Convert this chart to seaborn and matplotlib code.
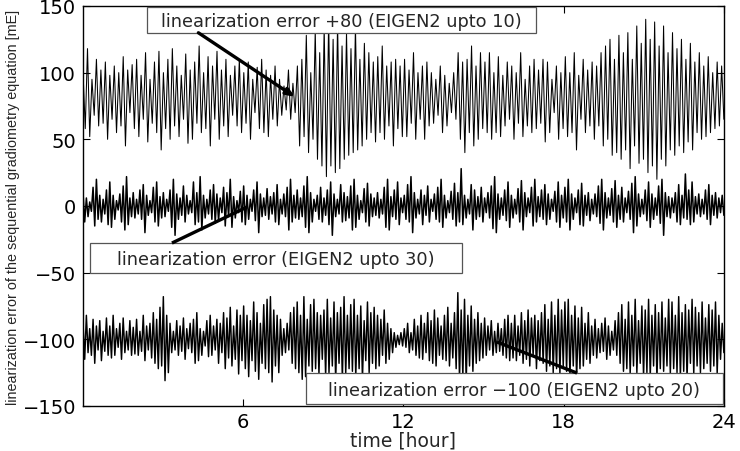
import numpy as np
import pandas as pd
import matplotlib
matplotlib.use("Agg")
import matplotlib.pyplot as plt
from matplotlib.patches import Rectangle
import seaborn as sns

# ---------------- data (raw linearization errors, mE) ----------------
err_upto10 = [
    20,-22,38,-28,15,-12,30,-20,22,-18,28,-30,
    18,-15,25,-25,20,-20,32,-35,22,-10,26,-22,
    30,-28,18,-15,35,-32,15,-18,28,-25,36,-38,
    20,-22,30,-30,38,-20,25,-28,18,-15,34,-33,
    22,-30,28,-18,40,-25,20,-22,32,-35,25,-15,
    36,-30,22,-20,30,-28,18,-12,25,-20,30,-25,
    20,-18,28,-30,15,-10,24,-22,30,-25,22,-28,
    18,-15,25,-20,15,-12,10,-8,22,-15,12,-10,
    25,-35,30,-28,48,-40,20,-30,52,-45,35,-50,
    55,-58,60,-50,45,-55,58,-52,40,-45,50,-42,
    38,-40,55,-38,30,-35,42,-30,35,-25,28,-32,
    32,-25,40,-30,25,-20,28,-35,30,-22,25,-28,
    30,-28,22,-18,35,-30,20,-15,25,-30,28,-20,
    20,-18,15,-12,25,-25,18,-20,12,-10,20,-15,
    35,-30,28,-40,30,-25,40,-35,25,-30,35,-22,
    28,-25,35,-30,20,-25,32,-28,18,-20,28,-15,
    25,-30,20,-18,35,-28,15,-20,25,-25,30,-22,
    22,-18,30,-32,28,-25,15,-10,25,-30,20,-22,
    32,-28,20,-25,35,-38,18,-15,30,-25,22,-20,
    28,-30,25,-20,35,-35,40,-30,45,-42,30,-40,
    48,-45,35,-38,50,-52,30,-35,55,-48,42,-45,
    60,-55,45,-50,58,-60,40,-45,55,-50,35,-38,
    50,-42,38,-35,45,-40,30,-32,42,-38,28,-25,
    35,-30,25,-28,32,-25,20,-22,28,-20,25,-15,
]

err_upto30 = [
    10,-12,6,-8,3,-4,14,-15,20,-10,8,-12,5,-6,12,-14,
    18,-16,8,-10,4,-3,9,-12,15,-18,22,-14,6,-8,10,-9,
    5,-6,12,-10,16,-20,8,-7,4,-5,14,-12,18,-15,7,-9,
    10,-8,5,-4,12,-16,20,-22,9,-10,6,-7,15,-12,8,-6,
    4,-5,18,-14,10,-12,22,-18,8,-9,5,-6,12,-10,16,-13,
    9,-11,6,-5,14,-15,10,-8,20,-16,7,-9,4,-5,11,-12,
    15,-14,8,-10,5,-4,12,-11,18,-20,9,-8,6,-7,13,-10,
    7,-6,10,-12,16,-14,5,-6,9,-8,14,-18,20,-12,8,-9,
    12,-10,6,-8,15,-16,22,-20,10,-12,5,-4,8,-10,14,-12,
    6,-7,12,-14,18,-22,9,-8,5,-6,16,-12,10,-11,7,-9,
    15,-18,20,-16,8,-10,4,-5,13,-12,17,-15,9,-8,6,-7,
    10,-9,5,-6,14,-16,20,-18,7,-8,12,-10,18,-14,6,-5,
    8,-10,16,-12,22,-20,10,-9,5,-6,12,-14,8,-7,15,-12,
    5,-4,9,-10,14,-12,20,-16,8,-9,4,-5,11,-10,17,-15,
    10,-12,28,-14,8,-9,5,-6,16,-18,12,-10,7,-8,14,-12,
    6,-5,10,-9,15,-17,22,-20,9,-10,6,-7,12,-11,18,-16,
    8,-9,5,-6,13,-12,19,-18,10,-8,6,-5,14,-15,20,-12,
    7,-8,12,-10,16,-14,9,-10,5,-4,11,-12,18,-16,8,-9,
    14,-12,20,-18,9,-10,6,-5,12,-14,17,-15,8,-7,10,-11,
    5,-6,9,-8,15,-13,20,-18,10,-9,6,-7,13,-12,19,-16,
    8,-10,14,-12,6,-5,11,-10,17,-20,22,-15,9,-8,5,-6,
    12,-11,18,-16,9,-10,6,-7,15,-13,20,-22,10,-8,7,-9,
    6,-5,10,-12,16,-14,8,-9,24,-10,12,-14,18,-12,7,-6,
    9,-8,5,-6,12,-10,16,-14,8,-7,10,-9,6,-5,8,-7,
]

err_upto20 = [
    12,-15,18,-10,8,-12,15,-18,10,-8,14,-16,6,-9,16,-12,
    10,-14,18,-12,8,-6,12,-15,16,-10,6,-8,14,-12,9,-11,
    15,-12,6,-9,18,-16,10,-8,12,-14,20,-18,15,-22,24,-20,
    32,-31,18,-25,12,-10,6,-8,14,-12,10,-9,16,-15,8,-7,
    12,-10,15,-18,20,-16,8,-12,6,-5,14,-13,18,-12,10,-8,
    15,-18,12,-10,20,-22,16,-14,24,-20,10,-15,22,-26,18,-16,
    25,-22,18,-28,14,-16,28,-24,20,-30,12,-18,26,-22,30,-25,
    32,-32,22,-20,18,-25,15,-12,8,-10,12,-8,20,-18,24,-22,
    28,-25,18,-30,32,-28,15,-20,26,-24,30,-22,20,-26,18,-15,
    22,-28,30,-25,16,-20,28,-32,20,-18,24,-30,32,-26,18,-22,
    26,-24,30,-28,18,-22,25,-30,14,-16,28,-25,20,-18,24,-22,
    18,-20,15,-12,22,-18,12,-15,8,-10,5,-6,3,-4,5,-5,
    8,-6,12,-10,5,-8,15,-12,10,-14,18,-15,12,-10,20,-16,
    14,-18,22,-20,16,-12,10,-15,18,-16,24,-20,12,-14,20,-22,
    35,-30,22,-28,30,-32,18,-20,25,-24,15,-18,20,-16,12,-14,
    16,-12,10,-8,14,-12,6,-10,12,-9,8,-12,15,-14,18,-16,
    12,-14,18,-16,10,-12,20,-18,14,-15,22,-20,16,-12,18,-22,
    14,-16,20,-18,26,-24,15,-20,28,-25,18,-22,30,-26,22,-20,
    28,-24,30,-28,18,-20,25,-30,16,-22,24,-20,12,-15,20,-18,
    10,-12,15,-14,8,-10,12,-9,16,-15,10,-12,6,-8,14,-12,
    20,-18,26,-24,15,-22,28,-26,18,-20,30,-25,14,-18,25,-28,
    22,-25,30,-28,18,-20,26,-30,20,-22,28,-24,16,-20,30,-26,
    28,-22,18,-25,32,-28,20,-24,26,-30,22,-18,30,-26,24,-20,
    20,-25,28,-22,16,-18,26,-24,22,-20,28,-26,18,-15,12,-10,
]

offsets = [80, 0, -100]
labels = [
    "linearization error +80 (EIGEN2 upto 10)",
    "linearization error (EIGEN2 upto 30)",
    "linearization error \u2212100 (EIGEN2 upto 20)",
]
x_ticks = [6, 12, 18, 24]
y_ticks = [-150, -100, -50, 0, 50, 100, 150]

# ---------------- style ----------------
sns.set_style("ticks")
plt.rcParams["font.family"] = ["DejaVu Sans"]
plt.rcParams["xtick.direction"] = "in"
plt.rcParams["ytick.direction"] = "in"
plt.rcParams["axes.linewidth"] = 1.0

fig = plt.figure(figsize=(7.4, 4.52), dpi=100)
ax = fig.add_axes([0.1122, 0.0996, 0.866, 0.885])

series = [err_upto10, err_upto30, err_upto20]
widths = [0.75, 1.1, 1.05]
for vals, off, lw in zip(series, offsets, widths):
    t = np.linspace(0, 24, len(vals))
    df = pd.DataFrame({"time": t, "err": np.asarray(vals, float) + off})
    sns.lineplot(data=df, x="time", y="err", ax=ax, color="black",
                 linewidth=lw, sort=False, estimator=None)

ax.set_xlim(0, 24)
ax.set_ylim(-150, 150)
ax.set_xticks(x_ticks)
ax.set_yticks(y_ticks)
ax.tick_params(axis="both", labelsize=14, length=5, width=0.8,
               top=True, right=True, direction="in", colors="black")
ax.tick_params(axis="y", pad=5)
ax.tick_params(axis="x", pad=4)
ax.set_xlabel("time [hour]", fontsize=13.5, labelpad=0)
ax.set_ylabel("linearization error of the sequential gradiometry equation [mE]",
              fontsize=10.4, family="Liberation Sans", labelpad=2)
for s in ax.spines.values():
    s.set_visible(True)
    s.set_color("black")

# ---------------- annotation boxes ----------------
boxes = [
    (2.40, 130.0, 14.56, 19.5),
    (0.26, -50.3, 13.93, 22.5),
    (8.35, -148.5, 15.60, 23.2),
]
for (bx, by, bw, bh), lab in zip(boxes, labels):
    ax.add_patch(Rectangle((bx, by), bw, bh, facecolor="white",
                           edgecolor="#555555", linewidth=0.9, zorder=5))
    ax.text(bx + bw / 2, by + bh / 2 - 0.8, lab, ha="center", va="center",
            fontsize=12.8, zorder=6)

ax.annotate("", xy=(7.94, 81.7), xytext=(4.32, 129.9),
            arrowprops=dict(arrowstyle="-|>,head_length=0.5,head_width=0.2",
                            color="black", lw=2.4, shrinkA=0, shrinkB=0),
            zorder=7)
ax.plot([3.33, 6.14], [-27.8, -0.8], color="black", lw=2.4, zorder=7,
        solid_capstyle="butt")
ax.plot([15.5, 18.5], [-102.0, -125.3], color="black", lw=2.4, zorder=7,
        solid_capstyle="butt")

fig.savefig("out.png", dpi=100)
